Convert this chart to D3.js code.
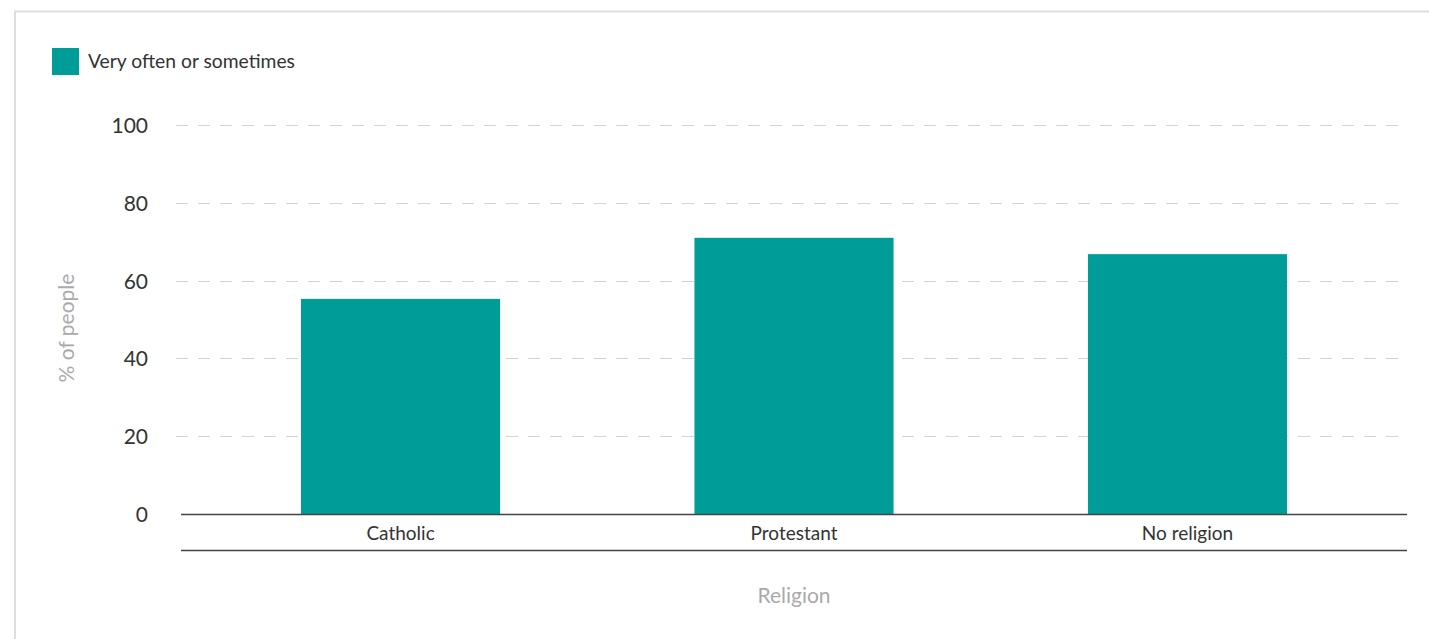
<!DOCTYPE html>
<html>
<head>
<meta charset="utf-8">
<script src="https://cdn.jsdelivr.net/npm/d3@7"></script>
<style>
  html, body { margin: 0; padding: 0; background: #fff; }
  svg { display: block; }
  text { font-family: "Lato", "Open Sans", sans-serif; }
</style>
</head>
<body>
<svg id="chart" width="1429" height="639"></svg>
<script>
const categories = ["Catholic", "Protestant", "No religion"];
const values = [55.3, 71.0, 66.8];
const seriesName = "Very often or sometimes";
const yTicks = [0, 20, 40, 60, 80, 100];
const yTitle = "% of people";
const xTitle = "Religion";

const W = 1429, H = 639;
const svg = d3.select("#chart");
const color = "#009c97";

// card border
svg.append("rect").attr("x", 15).attr("y", 11.5).attr("width", W + 10).attr("height", H + 10)
  .attr("fill", "#fff").attr("stroke", "#dedede").attr("stroke-width", 2);

const plotL = 181, plotR = 1407, plotT = 125, plotB = 514;

const x = d3.scaleBand().domain(categories).range([plotL, plotR])
  .paddingInner(0.494).paddingOuter(0.305);
const y = d3.scaleLinear().domain([0, 100]).range([plotB, plotT]);

// gridlines
const grid = svg.append("g");
grid.selectAll("line").data(yTicks.filter(t => t > 0)).join("line")
  .attr("x1", 176).attr("x2", plotR)
  .attr("y1", d => Math.round(y(d)) + 0.5).attr("y2", d => Math.round(y(d)) + 0.5)
  .attr("stroke", "#d3d3d3").attr("stroke-width", 1).attr("stroke-dasharray", "12,10");

// y axis labels
const yAxis = d3.axisLeft(y).tickValues(yTicks).tickSize(0).tickPadding(0);
const yg = svg.append("g").attr("transform", `translate(148,0)`).call(yAxis);
yg.select(".domain").remove();
yg.selectAll("text").attr("font-size", 21).attr("fill", "#333").attr("font-family", "Lato, sans-serif")
  .attr("dy", "0.36em");

// bars
svg.append("g").selectAll("rect").data(categories).join("rect")
  .attr("x", d => x(d))
  .attr("width", x.bandwidth())
  .attr("y", (d, i) => y(values[i]))
  .attr("height", (d, i) => plotB - y(values[i]))
  .attr("fill", color);

// x axis
const xAxis = d3.axisBottom(x).tickSize(0).tickPadding(0);
const xg = svg.append("g").attr("transform", `translate(0,${plotB})`).call(xAxis);
xg.select(".domain").remove();
xg.selectAll("text").attr("font-size", 19).attr("fill", "#333").attr("font-family", "Lato, sans-serif")
  .attr("y", 19).attr("dy", "0.36em");

svg.append("line").attr("x1", plotL).attr("x2", plotR).attr("y1", plotB + 0.5).attr("y2", plotB + 0.5)
  .attr("stroke", "#444").attr("stroke-width", 1.3);
svg.append("line").attr("x1", plotL).attr("x2", plotR).attr("y1", 550.5).attr("y2", 550.5)
  .attr("stroke", "#444").attr("stroke-width", 1.3);

// axis titles
svg.append("text").attr("x", (plotL + plotR) / 2).attr("y", 595).attr("dy", "0.36em")
  .attr("text-anchor", "middle").attr("font-size", 21).attr("fill", "#aaa").text(xTitle);
svg.append("text").attr("transform", `translate(66,328) rotate(-90)`).attr("dy", "0.36em")
  .attr("text-anchor", "middle").attr("font-size", 21).attr("fill", "#aaa").text(yTitle);

// legend
svg.append("rect").attr("x", 52).attr("y", 48).attr("width", 27).attr("height", 27).attr("fill", color);
svg.append("text").attr("x", 88).attr("y", 61.5).attr("dy", "0.36em").attr("font-size", 19.3)
  .attr("fill", "#333").text(seriesName);
</script>
</body>
</html>
